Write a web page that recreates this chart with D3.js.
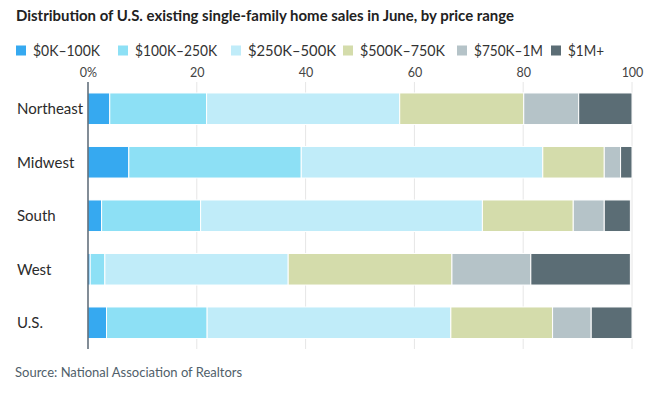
<!DOCTYPE html>
<html><head><meta charset="utf-8">
<script src="https://cdn.jsdelivr.net/npm/d3@7"></script>
<style>body{margin:0;background:#fff;} svg{display:block;}</style>
</head><body>
<svg id="c" width="646" height="395"></svg>
<script>
const regions = ["Northeast","Midwest","South","West","U.S."];
const ranges = ["$0K\u2013100K","$100K\u2013250K","$250K\u2013500K","$500K\u2013750K","$750K\u20131M","$1M+"];
const colors = ["#36a9f0","#8de0f5","#c0ecf9","#d4dcab","#b5c3c8","#5b6d75"];
const share0to100 =   [4.0, 7.5, 2.5, 0.4, 3.4];
const share100to250 = [17.8, 31.7, 18.2, 2.7, 18.5];
const share250to500 = [35.5, 44.4, 51.8, 33.7, 44.8];
const share500to750 = [22.8, 11.3, 16.7, 30.1, 18.7];
const share750to1M =  [10.1, 3.0, 5.7, 14.5, 7.1];
const share1Mplus =   [9.8, 2.1, 4.8, 18.3, 7.5];
const tickValues = [0,20,40,60,80,100];
const title = "Distribution of U.S. existing single-family home sales in June, by price range";
const source = "Source: National Association of Realtors";

const seriesVals = [share0to100, share100to250, share250to500, share500to750, share750to1M, share1Mplus];
const rows = regions.map((r,i)=>{const o={region:r}; ranges.forEach((k,j)=>o[k]=seriesVals[j][i]); return o;});
const stacked = d3.stack().keys(ranges)(rows);

const svg = d3.select("#c");
const FONT = "Lato, 'Open Sans', sans-serif";
const x = d3.scaleLinear().domain([0,100]).range([88,632]);
const y = d3.scaleBand().domain(regions).range([82,349.5]).paddingInner(0.41).paddingOuter(0.205);

svg.append("text").attr("x",16).attr("y",21).attr("font-family",FONT).attr("font-weight",700)
  .attr("font-size",16).attr("fill","#222").attr("textLength",498).attr("lengthAdjust","spacingAndGlyphs").text(title);

// legend
const legendX = [16,118,231,343,457,551];
const legendW = [67,82,88,85,69,36];
const lg = svg.append("g");
ranges.forEach((k,i)=>{
  lg.append("rect").attr("x",legendX[i]).attr("y",45.5).attr("width",10).attr("height",10).attr("fill",colors[i]);
  lg.append("text").attr("x",legendX[i]+17).attr("y",55.5).attr("font-family",FONT).attr("font-size",14.5)
    .attr("fill","#333").attr("textLength",legendW[i]).attr("lengthAdjust","spacingAndGlyphs").text(k);
});

// gridlines
svg.append("g").selectAll("line").data(tickValues.filter(d=>d>0)).join("line")
  .attr("x1",d=>x(d)).attr("x2",d=>x(d)).attr("y1",82).attr("y2",349)
  .attr("stroke","#e6e6e6").attr("stroke-width",1);

// axis labels
const ax = svg.append("g").attr("transform","translate(0,77)")
  .call(d3.axisTop(x).tickValues(tickValues).tickSize(0).tickPadding(0).tickFormat(d=>d===0?"0%":d));
ax.select(".domain").remove();
ax.selectAll("text").attr("font-family",FONT).attr("font-size",12.5).attr("fill","#444");

// bars
svg.append("g").selectAll("g").data(stacked).join("g").attr("fill",(d,i)=>colors[i])
  .selectAll("rect").data(d=>d).join("rect")
  .attr("x",d=>x(d[0])).attr("width",d=>Math.max(0,x(d[1])-x(d[0])))
  .attr("y",d=>y(d.data.region)).attr("height",y.bandwidth())
  .attr("stroke","#fff").attr("stroke-width",1);

// zero axis line
svg.append("line").attr("x1",x(0)).attr("x2",x(0)).attr("y1",82).attr("y2",349)
  .attr("stroke","#2f4050").attr("stroke-width",1.2);

// category labels
svg.append("g").selectAll("text").data(regions).join("text")
  .attr("x",17).attr("y",d=>y(d)+y.bandwidth()/2+5.5)
  .attr("font-family",FONT).attr("font-size",15).attr("fill","#2b2b2b").text(d=>d);

svg.append("text").attr("x",15).attr("y",377).attr("font-family",FONT).attr("font-size",13)
  .attr("fill","#50606a").text(source);
</script>
</body></html>
